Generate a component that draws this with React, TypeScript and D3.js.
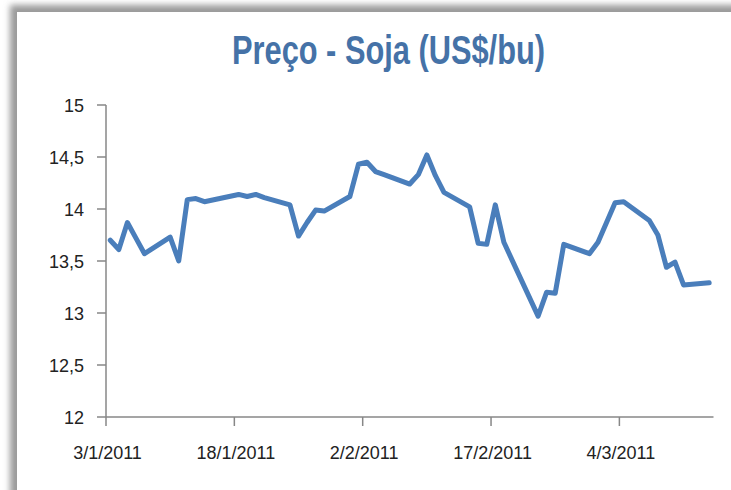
import React from "react";
import * as d3 from "d3";

const TITLE = "Preço - Soja (US$/bu)";

const dates: string[] = [
  "2011-01-03", "2011-01-04", "2011-01-05", "2011-01-06", "2011-01-07",
  "2011-01-10", "2011-01-11", "2011-01-12", "2011-01-13", "2011-01-14",
  "2011-01-18", "2011-01-19", "2011-01-20", "2011-01-21",
  "2011-01-24", "2011-01-25", "2011-01-26", "2011-01-27", "2011-01-28",
  "2011-01-31", "2011-02-01", "2011-02-02", "2011-02-03", "2011-02-04",
  "2011-02-07", "2011-02-08", "2011-02-09", "2011-02-10", "2011-02-11",
  "2011-02-14", "2011-02-15", "2011-02-16", "2011-02-17", "2011-02-18",
  "2011-02-22", "2011-02-23", "2011-02-24", "2011-02-25",
  "2011-02-28", "2011-03-01", "2011-03-02", "2011-03-03", "2011-03-04",
  "2011-03-07", "2011-03-08", "2011-03-09", "2011-03-10", "2011-03-11",
  "2011-03-14",
];

const prices: number[] = [
  13.70, 13.61, 13.87, 13.72, 13.57,
  13.73, 13.50, 14.09, 14.10, 14.07,
  14.14, 14.12, 14.14, 14.11,
  14.04, 13.74, 13.87, 13.99, 13.98,
  14.12, 14.43, 14.45, 14.36, 14.33,
  14.24, 14.33, 14.52, 14.32, 14.16,
  14.02, 13.67, 13.66, 14.04, 13.68,
  12.97, 13.20, 13.19, 13.66,
  13.57, 13.68, 13.87, 14.06, 14.07,
  13.89, 13.75, 13.44, 13.49, 13.27,
  13.29,
];

const xTickDates: string[] = ["2011-01-03", "2011-01-18", "2011-02-02", "2011-02-17", "2011-03-04"];
const xTickLabels: string[] = ["3/1/2011", "18/1/2011", "2/2/2011", "17/2/2011", "4/3/2011"];
const yTicks: number[] = [12, 12.5, 13, 13.5, 14, 14.5, 15];

const parse = (s: string) => {
  const [y, m, d] = s.split("-").map(Number);
  return new Date(y, m - 1, d);
};

export default function App() {
  const W = 731;
  const H = 490;
  const x = d3
    .scaleTime()
    .domain([new Date(2011, 0, 3), new Date(2011, 2, 15)])
    .range([106, 713.5]);
  const y = d3.scaleLinear().domain([12, 15]).range([417, 105]);

  const pts = dates.map((d, i) => ({
    t: new Date(parse(d).getTime() + 12 * 3600 * 1000),
    v: prices[i],
  }));
  const line = d3
    .line<{ t: Date; v: number }>()
    .x((p) => x(p.t))
    .y((p) => y(p.v));

  const fmt = (v: number) => String(v).replace(".", ",");
  const axisColor = "#878787";
  const font = "Arial, 'Liberation Sans', sans-serif";

  return (
    <svg
      width={W}
      height={H}
      style={{ position: "absolute", left: 0, top: 0, background: "#fff" }}
    >
      <defs>
        <filter id="sh" x="-10%" y="-10%" width="120%" height="120%">
          <feGaussianBlur stdDeviation="3" />
        </filter>
      </defs>
      <rect x={0} y={0} width={W} height={H} fill="#fff" />
      <rect x={10} y={5} width={900} height={700} fill="#9a9a9a" filter="url(#sh)" />
      <rect x={17} y={12} width={900} height={700} fill="#fff" />

      <text
        x={232}
        y={64}
        fontFamily={font}
        fontWeight="bold"
        fontSize={40}
        fill="#4572A7"
        textLength={313}
        lengthAdjust="spacingAndGlyphs"
      >
        {TITLE}
      </text>

      {/* y axis */}
      <line x1={106} x2={106} y1={y(15)} y2={y(12)} stroke={axisColor} strokeWidth={1.5} />
      {yTicks.map((t) => (
        <g key={t}>
          <line x1={97} x2={106} y1={y(t)} y2={y(t)} stroke={axisColor} strokeWidth={1.5} />
          <text
            x={84}
            y={y(t) + 6.5}
            textAnchor="end"
            fontFamily={font}
            fontSize={18}
            fill="#222"
          >
            {fmt(t)}
          </text>
        </g>
      ))}

      {/* x axis */}
      <line x1={106} x2={713.5} y1={y(12)} y2={y(12)} stroke={axisColor} strokeWidth={1.5} />
      {xTickDates.map((d, i) => {
        const xx = x(parse(d));
        return (
          <g key={d}>
            <line x1={xx} x2={xx} y1={y(12)} y2={y(12) + 9} stroke={axisColor} strokeWidth={1.5} />
            <text
              x={xx + 1.5}
              y={459}
              textAnchor="middle"
              fontFamily={font}
              fontSize={18}
              fill="#222"
            >
              {xTickLabels[i]}
            </text>
          </g>
        );
      })}

      <path
        d={line(pts) || ""}
        fill="none"
        stroke="#4A7EBB"
        strokeWidth={5}
        strokeLinejoin="round"
        strokeLinecap="round"
      />
    </svg>
  );
}
